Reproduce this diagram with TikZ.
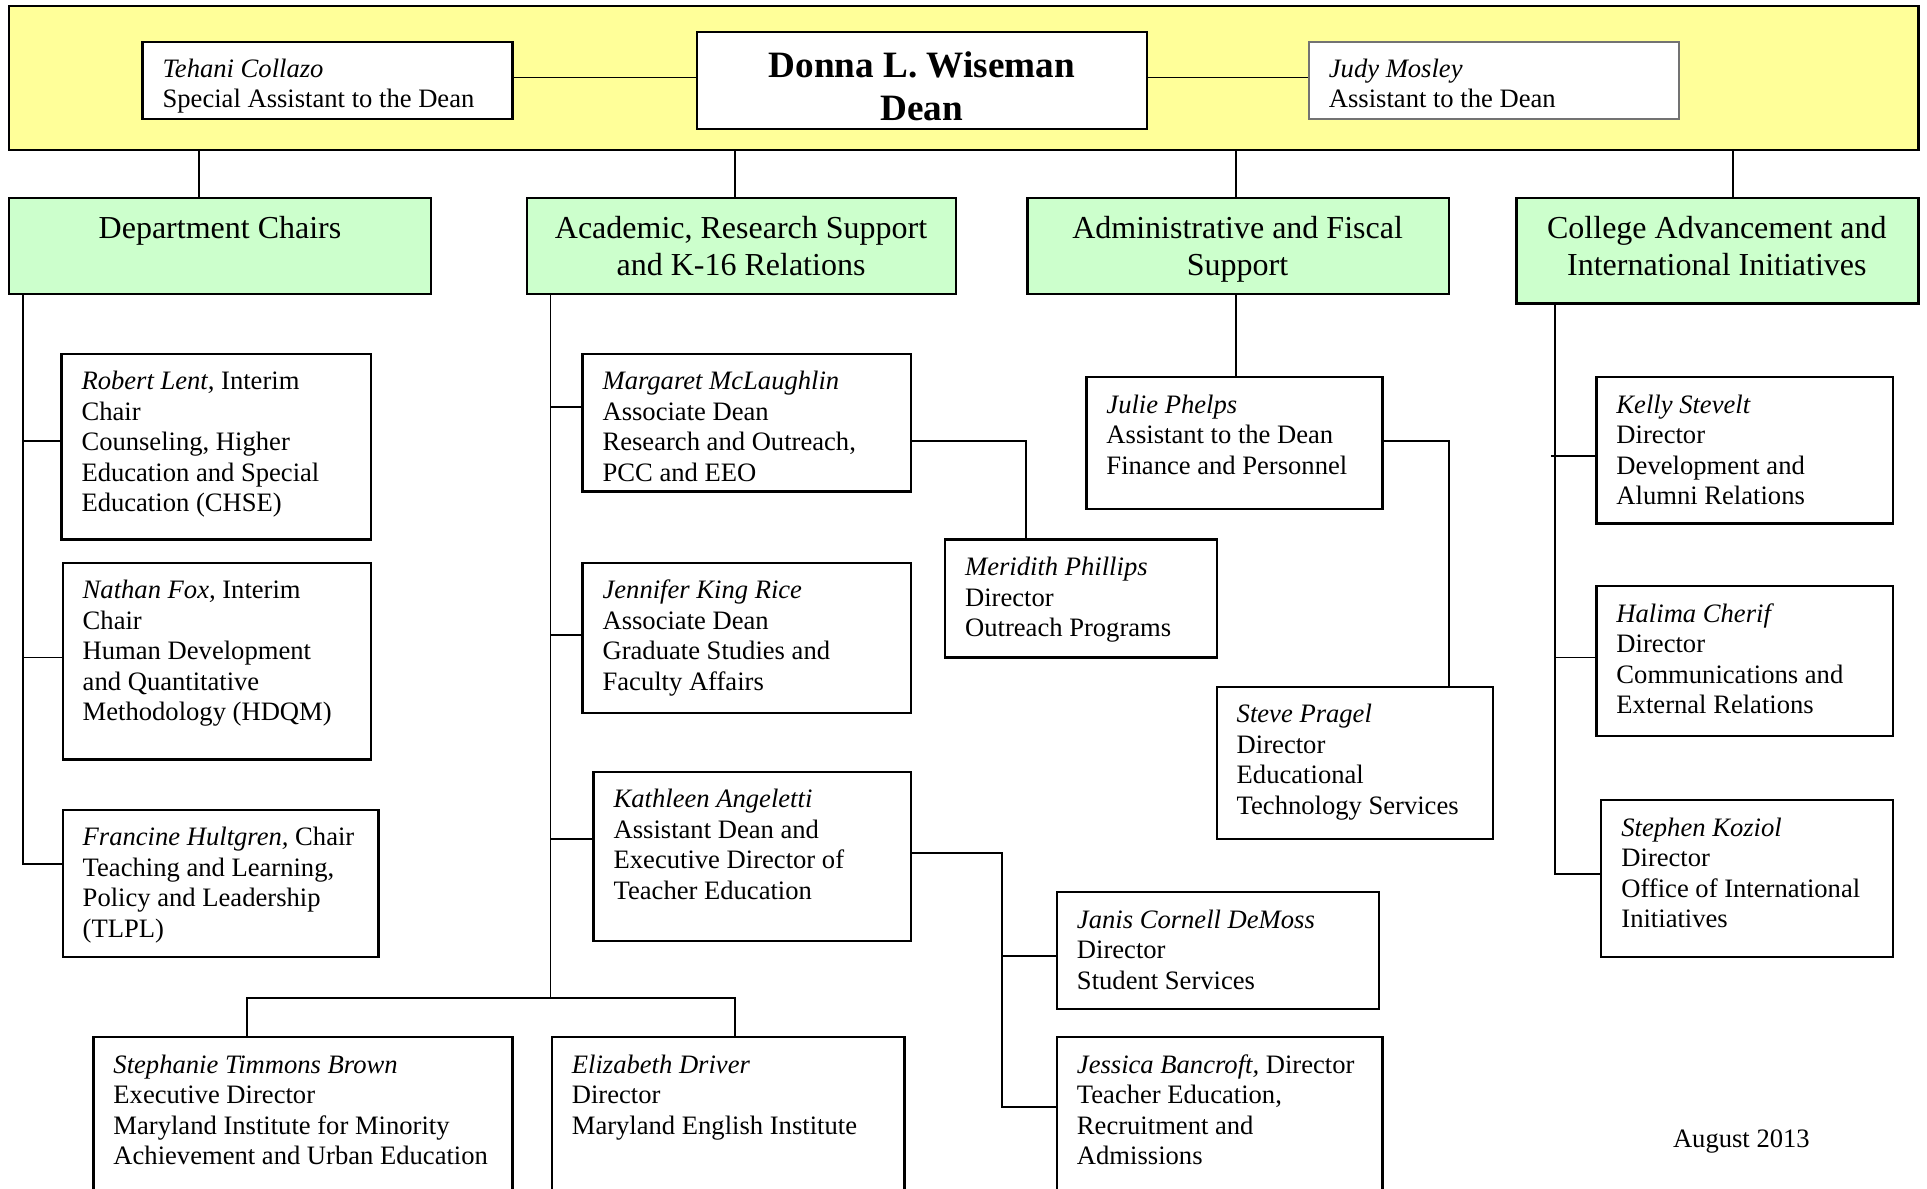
\documentclass[tikz,border=0pt]{standalone}
\usepackage{fontspec}
\setmainfont{Liberation Serif}
\usetikzlibrary{fit}
\definecolor{bannerfill}{HTML}{FFFF99}
\definecolor{headfill}{HTML}{CCFFCC}
\tikzset{
  pbox/.style={draw, line width=1.1pt, inner sep=0pt},
  ptext/.style={anchor=north west, align=left, inner sep=0pt, font=\fontsize{13.3}{15.25}\selectfont},
  htext/.style={anchor=north, align=center, inner sep=0pt, font=\fontsize{16}{18.4}\selectfont},
  hbox/.style={draw, fill=headfill, line width=1.1pt, inner sep=0pt},
  conn/.style={line width=0.9pt},
}
\newcommand\orgbox[6]{%
  \node[pbox, fit={(#2,#3) (#4,#5)}] (#1) {};
  \node[ptext] (#1t) at (#2+16,#3+11.6) {\strut #6};
}
\newcommand\headbox[7]{%
  \node[hbox, fit={(#2,#3) (#4,#5)}] (#1) {};
  \node[htext] (#1t) at (#6,#3+12) {\strut #7};
}
\begin{document}
\begin{tikzpicture}[x=0.6145pt, y=-0.6145pt]
\clip (0,0) rectangle (1568,967);
\useasboundingbox (0,0) rectangle (1568,967);
\fill[white] (0,0) rectangle (1568,967);

% banner
\node[draw, fill=bannerfill, line width=1.1pt, inner sep=0pt, fit={(7,5) (1561,122)}] (banner) {};
\node[pbox, fill=white, fit={(116,34) (417,97)}] (tehani) {};
\node[ptext] (tehanit) at (132,45.3) {\strut\textit{Tehani Collazo}\\Special Assistant to the Dean};
\node[pbox, fill=white, fit={(567,26) (933,105)}] (dean) {};
\node[anchor=north, align=center, inner sep=0pt, font=\fontsize{18.6}{21.5}\selectfont\bfseries] (deant) at (750,38.5) {\strut Donna L. Wiseman\\Dean};
\node[pbox, draw=black!55, fill=white, fit={(1065,34) (1366,97)}] (judy) {};
\node[ptext] (judyt) at (1081,45.3) {\strut\textit{Judy Mosley}\\Assistant to the Dean};

\draw[conn] (tehani.east |- 0,63) -- (dean.west |- 0,63);
\draw[conn] (dean.east |- 0,63) -- (judy.west |- 0,63);

% headers
\headbox{hdept}{7}{161}{351}{239}{179}{Department Chairs}
\headbox{hacad}{429}{161}{778}{239}{603}{Academic, Research Support\\and K-16 Relations}
\headbox{hadm}{836}{161}{1179}{239}{1007}{Administrative and Fiscal\\Support}
\headbox{hcol}{1234}{161}{1561}{247}{1397}{College Advancement and\\International Initiatives}

\draw[conn] (banner.south -| 162,0) -- (hdept.north -| 162,0);
\draw[conn] (banner.south -| 598,0) -- (hacad.north -| 598,0);
\draw[conn] (banner.south -| 1006,0) -- (hadm.north -| 1006,0);
\draw[conn] (banner.south -| 1410,0) -- (hcol.north -| 1410,0);

% department chairs
\orgbox{lent}{50}{288}{302}{439}{\textit{Robert Lent,} Interim\\Chair\\Counseling, Higher\\Education and Special\\Education (CHSE)}
\orgbox{fox}{51}{458}{302}{618}{\textit{Nathan Fox,} Interim\\Chair\\Human Development\\and Quantitative\\Methodology (HDQM)}
\orgbox{hult}{51}{659}{308}{779}{\textit{Francine Hultgren,} Chair\\Teaching and Learning,\\Policy and Leadership\\(TLPL)}
\draw[conn] (hdept.south -| 19,0) -- (19,703) -- (hult.west |- 0,703);
\draw[conn] (19,359) -- (lent.west |- 0,359);
\draw[conn] (19,535) -- (fox.west |- 0,535);

% academic
\orgbox{mcl}{474}{288}{741}{400}{\textit{Margaret McLaughlin}\\Associate Dean\\Research and Outreach,\\PCC and EEO}
\orgbox{rice}{474}{458}{741}{580}{\textit{Jennifer King Rice}\\Associate Dean\\Graduate Studies and\\Faculty Affairs}
\orgbox{ang}{483}{628}{741}{766}{\textit{Kathleen Angeletti}\\Assistant Dean and\\Executive Director of\\Teacher Education}
\orgbox{brown}{76}{844}{417}{990}{\textit{Stephanie Timmons Brown}\\Executive Director\\Maryland Institute for Minority\\Achievement and Urban Education}
\orgbox{driver}{449}{844}{736}{990}{\textit{Elizabeth Driver}\\Director\\Maryland English Institute}
\orgbox{phil}{769}{439}{990}{535}{\textit{Meridith Phillips}\\Director\\Outreach Programs}
\orgbox{demoss}{860}{726}{1122}{821}{\textit{Janis Cornell DeMoss}\\Director\\Student Services}
\orgbox{banc}{860}{844}{1125}{990}{\textit{Jessica Bancroft,} Director\\Teacher Education,\\Recruitment and\\Admissions}

\draw[conn] (hacad.south -| 448,0) -- (448,812);
\draw[conn] (448,331) -- (mcl.west |- 0,331);
\draw[conn] (448,517) -- (rice.west |- 0,517);
\draw[conn] (448,683) -- (ang.west |- 0,683);
\draw[conn] (brown.north -| 201,0) -- (201,812) -- (598,812) -- (driver.north -| 598,0);
\draw[conn] (mcl.east |- 0,359) -- (835,359) -- (phil.north -| 835,0);
\draw[conn] (ang.east |- 0,694) -- (815,694) -- (815,901) -- (banc.west |- 0,901);
\draw[conn] (815,778) -- (demoss.west |- 0,778);

% administrative
\orgbox{phelps}{884}{307}{1125}{414}{\textit{Julie Phelps}\\Assistant to the Dean\\Finance and Personnel}
\orgbox{pragel}{990}{559}{1215}{683}{\textit{Steve Pragel}\\Director\\Educational\\Technology Services}
\draw[conn] (hadm.south -| 1006,0) -- (phelps.north -| 1006,0);
\draw[conn] (phelps.east |- 0,359) -- (1179,359) -- (pragel.north -| 1179,0);

% college advancement
\orgbox{stevelt}{1299}{307}{1540}{426}{\textit{Kelly Stevelt}\\Director\\Development and\\Alumni Relations}
\orgbox{cherif}{1299}{477}{1540}{599}{\textit{Halima Cherif}\\Director\\Communications and\\External Relations}
\orgbox{koziol}{1303}{651}{1540}{779}{\textit{Stephen Koziol}\\Director\\Office of International\\Initiatives}
\draw[conn] (hcol.south -| 1265,0) -- (1265,711) -- (koziol.west |- 0,711);
\draw[conn] (1262,371) -- (stevelt.west |- 0,371);
\draw[conn] (1265,535) -- (cherif.west |- 0,535);

\node[anchor=base west, inner sep=0pt, font=\fontsize{13.3}{15.25}\selectfont] (date) at (1361,934) {August 2013};
\end{tikzpicture}
\end{document}
